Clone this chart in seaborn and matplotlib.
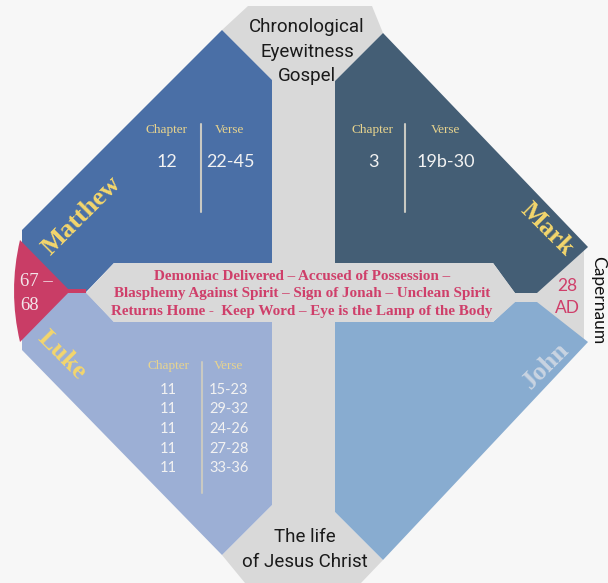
import matplotlib
matplotlib.use("Agg")
import matplotlib.pyplot as plt
import seaborn as sns
from matplotlib.path import Path
from matplotlib.patches import PathPatch, Rectangle

# --- content ---
gospels = ["Matthew", "Mark", "Luke", "John"]
matthew_chapters = ["12"]
matthew_verses = ["22-45"]
mark_chapters = ["3"]
mark_verses = ["19b-30"]
luke_chapters = ["11", "11", "11", "11", "11"]
luke_verses = ["15-23", "29-32", "24-26", "27-28", "33-36"]
events = [
    "Demoniac Delivered \u2013 Accused of Possession \u2013",
    "Blasphemy Against Spirit \u2013 Sign of Jonah \u2013 Unclean Spirit",
    "Returns Home -  Keep Word \u2013 Eye is the Lamp of the Body",
]
years = ["67 \u2013", "68"]
date = ["28", "AD"]
place = "Capernaum"
top_title = ["Chronological", "Eyewitness", "Gospel"]
bottom_title = ["The life", "of Jesus Christ"]

# colours
bg = "#f7f7f7"
grey = "#d9d9d9"
quad_colors = {"Matthew": "#4a6fa6", "Mark": "#445e75",
               "Luke": "#9cafd5", "John": "#88acd0"}
pink = "#c93d66"
text_pink = "#cf3f6a"
gold = "#f4d66c"
label_gold = "#e8d48e"
num_white = "#f2f2f2"

sns.set_theme(style="white")
plt.rcParams["font.family"] = ["Lato", "DejaVu Sans"]

fig = plt.figure(figsize=(6.08, 5.83), dpi=100, facecolor=bg)
ax = fig.add_axes([0, 0, 1, 1])
ax.set_xlim(0, 608)
ax.set_ylim(583, 0)
ax.set_facecolor(bg)
ax.axis("off")


def poly(pts, color, z=1):
    xs, ys = zip(*pts)
    ax.fill(xs, ys, color=color, lw=0, zorder=z)


# grey cross behind the quadrants
poly([(222, 30), (248, 6), (372, 6), (383, 33), (335, 81), (335, 512),
      (383, 560), (361, 583), (245, 583), (222, 555), (272, 505), (272, 80)], grey)
poly([(500, 246), (584, 246), (584, 346), (500, 346)], grey)

# four gospel quadrants
shapes = {
    "Matthew": [(222, 30), (272, 80), (272, 263), (114, 263), (86, 292),
                (22, 292), (22, 230)],
    "Mark": [(383, 33), (588, 247), (537, 293), (515, 293), (493, 263),
             (335, 263), (335, 81)],
    "Luke": [(272, 322), (272, 505), (222, 555), (22, 350), (22, 292),
             (86, 292), (114, 322)],
    "John": [(335, 322), (493, 322), (515, 302), (537, 302), (588, 342),
             (383, 560), (335, 512)],
}
for g in gospels:
    poly(shapes[g], quad_colors[g], z=2)

# central banner
poly([(86, 293), (114, 263), (493, 263), (515, 293), (515, 302),
      (493, 322), (114, 322)], grey, z=3)

# pink year tab on the left
verts = [(20, 240), (70, 291), (20, 342), (8, 291), (20, 240)]
codes = [Path.MOVETO, Path.LINETO, Path.LINETO, Path.CURVE3, Path.CURVE3]
ax.add_patch(PathPatch(Path(verts, codes), facecolor=pink, lw=0, zorder=4))
ax.add_patch(Rectangle((68, 289), 18, 4, facecolor=pink, lw=0, zorder=4))

serif = ["Liberation Serif", "DejaVu Serif"]

# gospel names
name_pos = {"Matthew": (82, 216, 45, gold), "Mark": (547, 229, -45, gold),
            "Luke": (62, 355, -45, gold), "John": (546, 366, 45, "#c9d4e2")}
for g in gospels:
    x, y, rot, c = name_pos[g]
    ax.text(x, y, g, rotation=rot, rotation_mode="anchor", ha="center",
            va="center", family=serif, weight="bold", fontsize=19, color=c,
            zorder=6)


def table(cx_ch, cx_vs, x_line, y_head, y_rows, line_top, line_bot,
          chapters, verses, size):
    ax.text(cx_ch, y_head, "Chapter", ha="center", va="center", family=serif,
            fontsize=9.5, color=label_gold, zorder=6)
    ax.text(cx_vs, y_head, "Verse", ha="center", va="center", family=serif,
            fontsize=9.5, color=label_gold, zorder=6)
    ax.plot([x_line, x_line], [line_top, line_bot], color="#c9c9c2", lw=1.5,
            zorder=6)
    for y, ch, vs in zip(y_rows, chapters, verses):
        ax.text(cx_ch, y, ch, ha="center", va="center", fontsize=size,
                color=num_white, zorder=6)
        ax.text(cx_vs, y, vs, ha="center", va="center", fontsize=size,
                color=num_white, zorder=6)


table(167, 230, 201, 130, [162], 124, 212, matthew_chapters, matthew_verses, 13)
table(373, 446, 405, 130, [162], 124, 212, mark_chapters, mark_verses, 13)
table(168, 229, 202, 366, [390, 409, 429, 449, 468], 362, 493,
      luke_chapters, luke_verses, 10.5)

# event banner text
for y, line in zip([276, 294, 312], events):
    ax.text(302, y, line, ha="center", va="center", family=serif,
            weight="bold", fontsize=10.9, color=text_pink, zorder=6)

# years / date / place
for y, t in zip([282, 305], years):
    ax.text(20, y, t, ha="left", va="center", family=serif, fontsize=13.5,
            color="#f3e6ea", zorder=6)
for y, t in zip([286, 308], date):
    ax.text(567, y, t, ha="center", va="center", fontsize=12.5,
            color=text_pink, zorder=6)
ax.text(598, 300, place, rotation=270, ha="center", va="center",
        fontsize=12.5, color="#111111", zorder=6)

# titles
for y, t in zip([27, 52, 76], top_title):
    ax.text(307, y, t, ha="center", va="center", family=["Roboto", "DejaVu Sans"],
            fontsize=13.5, color="#1a1a1a", zorder=6)
for y, t in zip([537, 562], bottom_title):
    ax.text(305, y, t, ha="center", va="center", family=["Roboto", "DejaVu Sans"],
            fontsize=13.5, color="#1a1a1a", zorder=6)

fig.savefig("out.png", dpi=100, facecolor=bg)
